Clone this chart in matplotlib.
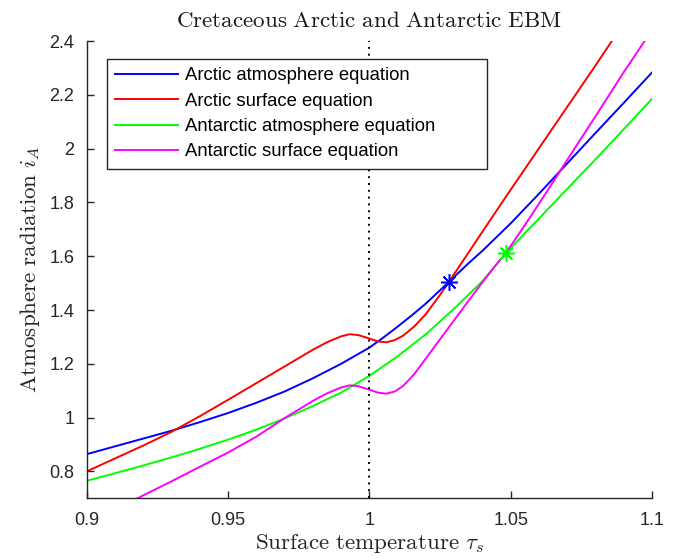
import matplotlib
matplotlib.use("Agg")
import matplotlib.pyplot as plt

plt.rcParams["mathtext.fontset"] = "cm"
plt.rcParams["font.family"] = ["Liberation Sans", "DejaVu Sans"]

# Arctic atmosphere equation
arc_atm_x = [0.90, 0.91, 0.92, 0.93, 0.94, 0.95, 0.96, 0.97, 0.98, 0.99, 1.00,
             1.005, 1.01, 1.015, 1.02, 1.0282, 1.035, 1.04, 1.05, 1.06, 1.07,
             1.08, 1.09, 1.10]
arc_atm_y = [0.864, 0.893, 0.922, 0.951, 0.983, 1.017, 1.055, 1.097, 1.146,
             1.200, 1.260, 1.298, 1.338, 1.380, 1.424, 1.505, 1.573, 1.620,
             1.722, 1.832, 1.945, 2.058, 2.170, 2.283]

# Arctic surface equation
arc_srf_x = [0.90, 0.91, 0.92, 0.93, 0.94, 0.95, 0.96, 0.97, 0.98, 0.985,
             0.99, 0.993, 0.996, 1.000, 1.003, 1.006, 1.009, 1.012, 1.016,
             1.020, 1.025, 1.0282, 1.035, 1.040, 1.050, 1.060, 1.070, 1.080,
             1.0858]
arc_srf_y = [0.800, 0.848, 0.896, 0.947, 1.005, 1.066, 1.128, 1.190, 1.252,
             1.280, 1.302, 1.310, 1.307, 1.294, 1.283, 1.280, 1.288, 1.305,
             1.340, 1.385, 1.456, 1.505, 1.612, 1.691, 1.847, 2.001, 2.155,
             2.309, 2.400]

# Antarctic atmosphere equation
ant_atm_x = [0.90, 0.91, 0.92, 0.93, 0.94, 0.95, 0.96, 0.97, 0.98, 0.99, 1.00,
             1.01, 1.02, 1.03, 1.04, 1.0483, 1.06, 1.07, 1.08, 1.09, 1.10]
ant_atm_y = [0.765, 0.793, 0.822, 0.852, 0.884, 0.918, 0.955, 0.997, 1.043,
             1.093, 1.155, 1.228, 1.310, 1.405, 1.507, 1.612, 1.740, 1.850,
             1.960, 2.072, 2.185]

# Antarctic surface equation
ant_srf_x = [0.918, 0.925, 0.93, 0.94, 0.95, 0.96, 0.97, 0.98, 0.985, 0.99,
             0.993, 0.996, 1.000, 1.003, 1.006, 1.009, 1.012, 1.016, 1.020,
             1.025, 1.030, 1.035, 1.040, 1.045, 1.0483, 1.055, 1.060, 1.065,
             1.070, 1.080, 1.090, 1.0974]
ant_srf_y = [0.700, 0.737, 0.763, 0.817, 0.870, 0.929, 0.998, 1.062, 1.090,
             1.112, 1.120, 1.117, 1.104, 1.093, 1.089, 1.097, 1.118, 1.163,
             1.220, 1.291, 1.362, 1.433, 1.503, 1.570, 1.612, 1.715, 1.795,
             1.876, 1.958, 2.120, 2.284, 2.400]

# Equilibrium points
arc_eq = (1.0282, 1.505)
ant_eq = (1.0483, 1.612)

labels = ["Arctic atmosphere equation", "Arctic surface equation",
          "Antarctic atmosphere equation", "Antarctic surface equation"]
colors = ["#0000ff", "#ff0000", "#00ff00", "#ff00ff"]

xticks = [0.9, 0.95, 1.0, 1.05, 1.1]
xticklabels = ["0.9", "0.95", "1", "1.05", "1.1"]
yticks = [0.8, 1.0, 1.2, 1.4, 1.6, 1.8, 2.0, 2.2, 2.4]
yticklabels = ["0.8", "1", "1.2", "1.4", "1.6", "1.8", "2", "2.2", "2.4"]

fig = plt.figure(figsize=(6.73, 5.58), dpi=100)
ax = fig.add_axes([0.1288, 0.107, 0.840, 0.8195])

series = [(arc_atm_x, arc_atm_y), (arc_srf_x, arc_srf_y),
          (ant_atm_x, ant_atm_y), (ant_srf_x, ant_srf_y)]
for (xs, ys), lab, c in zip(series, labels, colors):
    ax.plot(xs, ys, color=c, lw=1.4, label=lab)

ax.axvline(1.0, color="black", lw=1.4, ls=(0, (1, 2.5)))

ax.plot(*arc_eq, marker=(8, 2, 0), ms=12, mew=1.1, color=colors[0], ls="none")
ax.plot(*ant_eq, marker=(8, 2, 0), ms=12, mew=1.1, color=colors[2], ls="none")

ax.set_xlim(0.9, 1.1)
ax.set_ylim(0.7, 2.4)
ax.set_xticks(xticks)
ax.set_xticklabels(xticklabels)
ax.set_yticks(yticks)
ax.set_yticklabels(yticklabels)

axcol = "#262626"
for s in ("top", "right"):
    ax.spines[s].set_visible(False)
for s in ("left", "bottom"):
    ax.spines[s].set_color(axcol)
    ax.spines[s].set_linewidth(1.0)
ax.tick_params(direction="in", length=5, width=1.0, color=axcol,
               labelcolor=axcol, labelsize=13)
ax.tick_params(axis="x", pad=10)
ax.tick_params(axis="y", pad=9)

ax.set_title(r"$\mathrm{Cretaceous\ Arctic\ and\ Antarctic\ EBM}$",
             fontsize=16.6, color="#1a1a1a", pad=10)
ax.set_xlabel(r"$\mathrm{Surface\ temperature}\ \tau_s$", fontsize=16.6,
              color="#262626", labelpad=2)
ax.set_ylabel(r"$\mathrm{Atmosphere\ radiation}\ i_A$", fontsize=16.6,
              color="#262626", labelpad=5)

leg = ax.legend(loc="upper left", bbox_to_anchor=(0.0359, 0.0, 0.672, 0.9606),
                mode="expand", borderaxespad=0, fontsize=13.3, frameon=True,
                fancybox=False, handlelength=3.4, handletextpad=0.35,
                labelspacing=0.45, borderpad=0.45, edgecolor=axcol,
                framealpha=1)
leg.get_frame().set_linewidth(1.0)
for t in leg.get_texts():
    t.set_color("black")

fig.savefig("out.png", dpi=100)
